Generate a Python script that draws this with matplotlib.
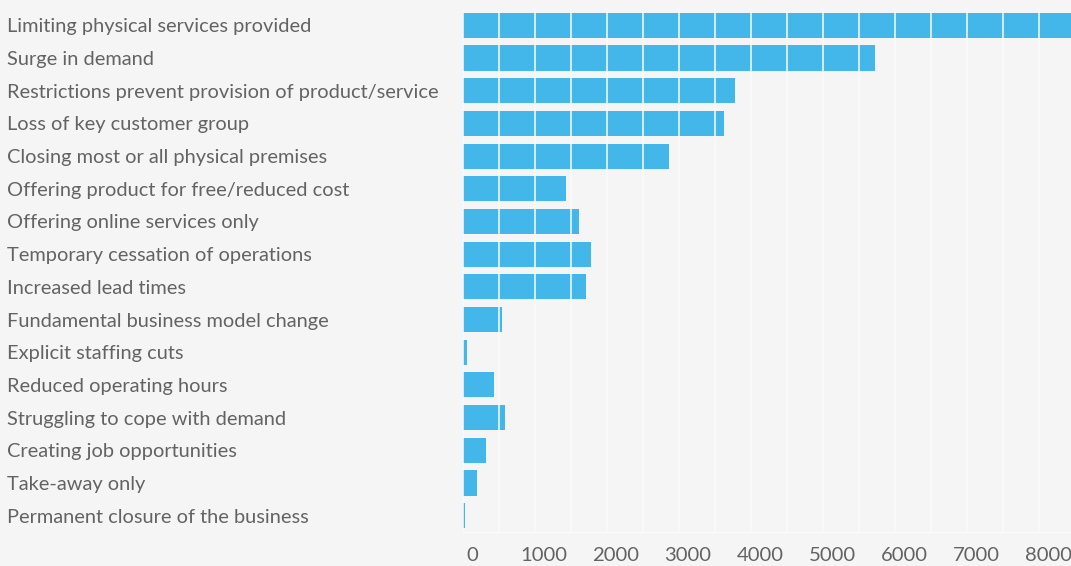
import numpy as np
import matplotlib
matplotlib.use('Agg')
import matplotlib.pyplot as plt
from matplotlib.transforms import ScaledTranslation

categories = [
    'Limiting physical services provided',
    'Surge in demand',
    'Restrictions prevent provision of product/service',
    'Loss of key customer group',
    'Closing most or all physical premises',
    'Offering product for free/reduced cost',
    'Offering online services only',
    'Temporary cessation of operations',
    'Increased lead times',
    'Fundamental business model change',
    'Explicit staffing cuts',
    'Reduced operating hours',
    'Struggling to cope with demand',
    'Creating job opportunities',
    'Take-away only',
    'Permanent closure of the business',
]
counts = [8600, 5720, 3780, 3625, 2860, 1430, 1610, 1775, 1705,
          540, 55, 430, 585, 320, 195, 25]
x_ticks = [0, 1000, 2000, 3000, 4000, 5000, 6000, 7000, 8000]

bg = '#f5f5f5'
bar_color = '#43b6ea'
text_color = '#636363'
bar_h = 0.77

plt.rcParams['font.family'] = ['Lato', 'DejaVu Sans']

fig = plt.figure(figsize=(10.71, 5.66), dpi=100, facecolor=bg)
ax = fig.add_axes([463 / 1071, 34 / 566, 1 - 463 / 1071, 523 / 566])
ax.set_facecolor(bg)

y = np.arange(len(categories))
ax.barh(y, counts, height=bar_h, color=bar_color, zorder=2)

ax.set_ylim(len(categories) - 0.5, -0.5)
ax.set_xlim(0, 8444)

# faint grid on the background, white separators over the bars
grid = np.arange(0, 8444, 500)
for gx in grid:
    ax.axvline(gx, color='#fafafa', lw=1.2, zorder=1)
for yi, c in zip(y, counts):
    gs = grid[grid < c]
    ax.vlines(gs, yi - bar_h / 2, yi + bar_h / 2, color='white',
              lw=1.2, alpha=0.9, zorder=3)

ax.set_yticks(y)
ax.set_yticklabels(categories, fontsize=14.45, color=text_color, ha='left')
ax.tick_params(axis='y', length=0, pad=456 * 0.72)

ax.set_xticks(x_ticks)
ax.set_xticklabels([str(t) for t in x_ticks], fontsize=14.6, color=text_color)
ax.tick_params(axis='x', length=0, pad=11)
shift = ScaledTranslation(9 / 100, 0, fig.dpi_scale_trans)
for lbl in ax.get_xticklabels():
    lbl.set_transform(lbl.get_transform() + shift)

for s in ['top', 'right', 'left']:
    ax.spines[s].set_visible(False)
ax.spines['bottom'].set_color('#fafafa')

fig.savefig('out.png', dpi=100, facecolor=bg)
